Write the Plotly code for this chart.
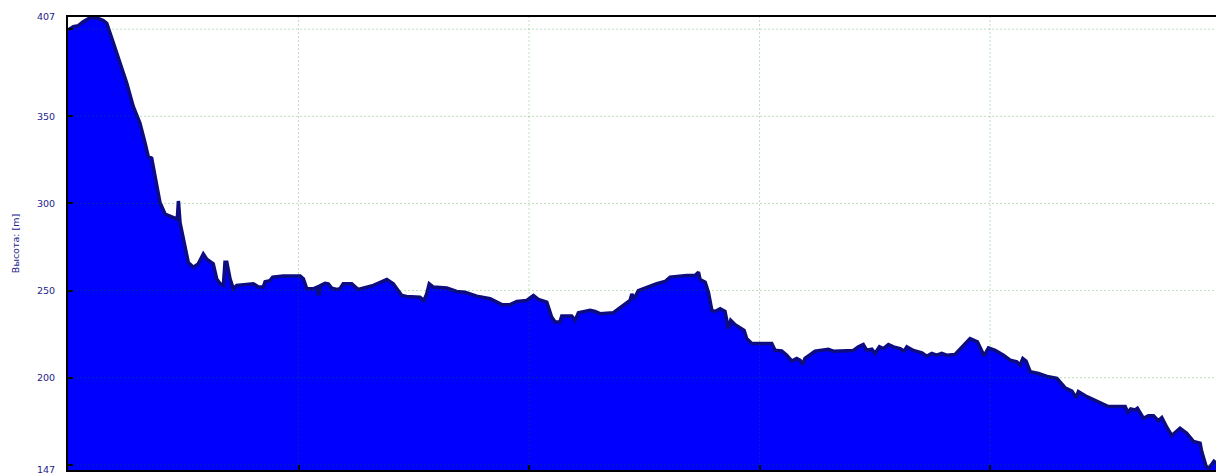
import plotly.graph_objects as go

# Elevation profile: distance along track (km) and altitude (m)
dist_km = [
    0.000, 0.023, 0.045, 0.066, 0.095, 0.125, 0.153, 0.168, 0.197, 0.226,
    0.255, 0.283, 0.312, 0.334, 0.348, 0.363, 0.377, 0.399, 0.421, 0.457,
    0.474, 0.479, 0.486, 0.522, 0.544, 0.565, 0.587, 0.602, 0.630, 0.645,
    0.659, 0.674, 0.681, 0.689, 0.703, 0.717, 0.732, 0.804, 0.826, 0.847,
    0.855, 0.876, 0.888, 0.934, 1.007, 1.021, 1.036, 1.064, 1.082, 1.088,
    1.096, 1.115, 1.129, 1.144, 1.166, 1.180, 1.194, 1.231, 1.259, 1.325,
    1.383, 1.411, 1.448, 1.469, 1.527, 1.544, 1.556, 1.567, 1.585, 1.643,
    1.686, 1.722, 1.773, 1.831, 1.882, 1.918, 1.947, 1.990, 2.019, 2.040,
    2.062, 2.077, 2.098, 2.113, 2.134, 2.142, 2.185, 2.200, 2.214, 2.265,
    2.286, 2.308, 2.366, 2.409, 2.438, 2.446, 2.456, 2.474, 2.511, 2.554,
    2.590, 2.612, 2.684, 2.720, 2.735, 2.742, 2.764, 2.778, 2.793, 2.807,
    2.829, 2.850, 2.865, 2.875, 2.894, 2.923, 2.933, 2.944, 2.966, 3.053,
    3.067, 3.096, 3.118, 3.140, 3.161, 3.176, 3.187, 3.197, 3.241, 3.298,
    3.320, 3.407, 3.429, 3.450, 3.465, 3.487, 3.501, 3.520, 3.537, 3.559,
    3.581, 3.610, 3.627, 3.639, 3.667, 3.704, 3.725, 3.747, 3.768, 3.790,
    3.812, 3.848, 3.877, 3.913, 3.945, 3.960, 3.974, 3.993, 4.022, 4.058,
    4.087, 4.116, 4.130, 4.142, 4.156, 4.174, 4.210, 4.253, 4.290, 4.325,
    4.355, 4.373, 4.383, 4.420, 4.477, 4.513, 4.586, 4.597, 4.610, 4.629,
    4.639, 4.665, 4.687, 4.709, 4.730, 4.745, 4.767, 4.788, 4.824, 4.853,
    4.882, 4.911, 4.918, 4.937, 4.950, 4.971, 4.980,
]
elev_m = [
    399.5, 401.5, 402.0, 404.3, 406.5, 406.5, 405.0, 403.4, 392.0, 380.5,
    369.0, 355.7, 346.2, 334.8, 327.0, 326.0, 315.7, 300.5, 293.9, 292.0,
    291.0, 301.4, 289.0, 266.0, 263.4, 265.3, 271.0, 268.0, 265.3, 256.7,
    254.0, 253.0, 266.3, 266.3, 256.7, 251.0, 253.0, 253.9, 252.0, 252.0,
    255.0, 255.7, 257.7, 258.3, 258.3, 256.7, 251.0, 251.0, 252.0, 247.2,
    253.0, 254.2, 253.9, 251.4, 250.6, 251.0, 253.9, 253.9, 250.6, 253.0,
    256.3, 253.9, 247.2, 246.6, 246.2, 244.3, 248.0, 253.9, 252.0, 251.4,
    249.5, 249.0, 246.8, 245.3, 241.9, 241.9, 243.7, 244.3, 247.2, 244.9,
    244.3, 243.4, 234.8, 232.0, 232.0, 235.4, 235.4, 232.9, 237.3, 238.6,
    238.0, 236.7, 237.3, 241.5, 244.3, 248.0, 245.3, 250.0, 252.0, 253.9,
    255.2, 257.7, 258.6, 258.6, 260.5, 256.3, 254.8, 249.0, 238.6, 238.0,
    239.6, 238.0, 228.1, 232.9, 230.4, 228.1, 227.2, 222.4, 219.6, 219.6,
    215.7, 215.4, 212.9, 209.5, 211.0, 210.0, 207.6, 211.0, 215.2, 216.3,
    215.2, 215.6, 217.7, 219.0, 215.7, 216.3, 213.9, 217.7, 216.7, 219.0,
    217.7, 216.7, 215.2, 217.7, 215.6, 214.3, 212.3, 213.9, 212.9, 213.9,
    212.9, 213.3, 217.7, 222.4, 220.5, 215.7, 212.5, 217.1, 215.7, 212.9,
    210.0, 209.1, 207.2, 211.0, 209.5, 203.4, 202.4, 200.5, 199.6, 194.2,
    192.3, 188.5, 192.0, 189.1, 185.7, 183.4, 183.4, 180.1, 182.0, 181.5,
    182.4, 176.7, 178.2, 178.2, 175.2, 177.1, 171.4, 166.8, 171.0, 168.1,
    163.4, 162.4, 157.6, 149.1, 148.1, 152.0, 151.0,
]

y_labels = [147, 200, 250, 300, 350, 407]
y_grid = [150, 200, 250, 300, 350, 400]
x_grid = [1, 2, 3, 4]
x_range = [0, 4.98]
y_range = [147, 407]

_FILL = "#0000ff"
_LINE = "#0d0d80"
_GRID = "rgba(0,128,0,0.25)"   # light green on white, darkens over the blue fill
_TEXT = "#22228a"

fig = go.Figure()
fig.add_trace(go.Scatter(
    x=dist_km, y=elev_m, mode="lines", fill="tozeroy",
    fillcolor=_FILL, line=dict(color=_LINE, width=3.5),
    showlegend=False, hoverinfo="skip",
))

# dotted grid drawn above the fill, like the original
shapes = []
for gy in y_grid:
    shapes.append(dict(type="line", xref="paper", x0=0, x1=1, yref="y", y0=gy, y1=gy,
                       line=dict(color=_GRID, width=1, dash="2px,2px"), layer="above"))
for gx in x_grid:
    shapes.append(dict(type="line", yref="paper", y0=0, y1=1, xref="x", x0=gx, x1=gx,
                       line=dict(color=_GRID, width=1, dash="2px,2px"), layer="above"))

fig.update_layout(
    width=1216, height=475,
    margin=dict(l=68, r=0, t=17, b=3),
    paper_bgcolor="white", plot_bgcolor="white",
    font=dict(family="DejaVu Sans", size=9.5, color=_TEXT),
    shapes=shapes,
    xaxis=dict(
        range=x_range, showgrid=False, zeroline=False, showticklabels=False,
        tickmode="array", tickvals=x_grid, ticks="inside", ticklen=5, tickwidth=2,
        tickcolor="black", showline=True, linecolor="black", linewidth=2,
        mirror=True, layer="above traces",
    ),
    yaxis=dict(
        range=y_range, showgrid=False, zeroline=False,
        tickmode="array", tickvals=y_labels, ticks="",
        ticklabelstandoff=9, ticklabeloverflow="allow",
        showline=True, linecolor="black", linewidth=2, layer="above traces",
        minor=dict(tickmode="array", tickvals=y_grid, ticks="inside", ticklen=5,
                   tickwidth=2, tickcolor="black", showgrid=False),
        title=dict(text="Высота: [m]", font=dict(size=9.5, color=_TEXT), standoff=16),
    ),
)

# the page's default body margin would shift the chart; drop it
fig.write_html("out.html", config={"displayModeBar": False},
               post_script="document.body.style.margin='0';")
